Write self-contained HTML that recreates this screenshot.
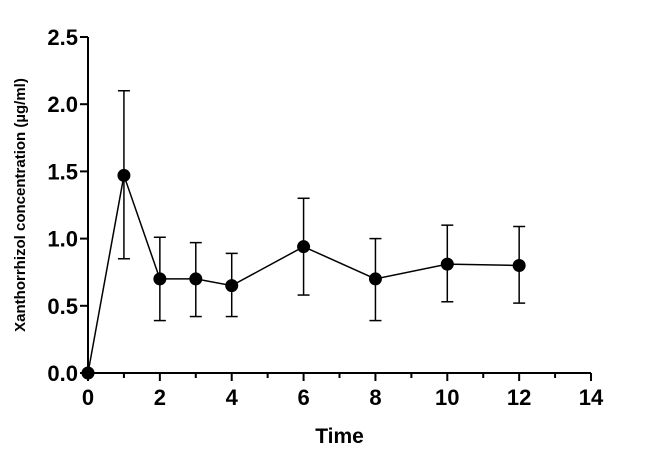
<!DOCTYPE html>
<html><head><style>
body{margin:0;background:#fff;}
svg text{font-family:"Liberation Sans",Arial,sans-serif;font-weight:bold;fill:#000;}
</style></head><body>
<svg id="chart" width="658" height="460" xmlns="http://www.w3.org/2000/svg"></svg>
<script>
const times=[0,1,2,3,4,6,8,10,12];
const means=[0,1.47,0.70,0.70,0.65,0.94,0.70,0.81,0.80];
const lowers=[0,0.85,0.39,0.42,0.42,0.58,0.39,0.53,0.52];
const uppers=[0,2.10,1.01,0.97,0.89,1.30,1.00,1.10,1.09];
const xTicks=[0,2,4,6,8,10,12,14];
const yTicks=[0,0.5,1.0,1.5,2.0,2.5];
const NS="http://www.w3.org/2000/svg";
const svg=document.getElementById('chart');
const x0=88,xPer=35.93,y0=373,yPer=134.4;
const X=v=>x0+v*xPer, Y=v=>y0-v*yPer;
function mk(t,a,p){const e=document.createElementNS(NS,t);for(const k in a)e.setAttribute(k,a[k]);(p||svg).appendChild(e);return e;}
let ax=mk('g',{stroke:'#000','stroke-width':2});


mk('line',{x1:x0,y1:y0,x2:X(14),y2:y0},ax);
mk('line',{x1:x0,y1:y0,x2:x0,y2:Y(2.5)},ax);
for(let i=0;i<=14;i++){mk('line',{x1:X(i),y1:y0,x2:X(i),y2:y0+(i%2?5:8)},ax);}
xTicks.forEach(v=>{const t=mk('text',{x:X(v),y:y0+32,'text-anchor':'middle','font-size':22});t.textContent=v;

});
yTicks.forEach(v=>{mk('line',{x1:x0-8,y1:Y(v),x2:x0,y2:Y(v)},ax);
const t=mk('text',{x:x0-10,y:Y(v)+8,'text-anchor':'end','font-size':22});t.textContent=v.toFixed(1);

});
const xt=mk('text',{x:X(7),y:443,'text-anchor':'middle','font-size':21});xt.textContent='Time';


const yt=mk('text',{x:0,y:0,'text-anchor':'middle','font-size':15,transform:'translate(25,205) rotate(-90)'});yt.textContent='Xanthorrhizol concentration (µg/ml)';


const ln=mk('polyline',{points:times.map((t,i)=>X(t)+','+Y(means[i])).join(' '),fill:'none',stroke:'#000','stroke-width':1.5});


times.forEach((t,i)=>{
 const g=mk('g',{stroke:'#000','stroke-width':1.5});
 
 
 if(uppers[i]>lowers[i]){
 mk('line',{x1:X(t),y1:Y(lowers[i]),x2:X(t),y2:Y(uppers[i])},g);
 mk('line',{x1:X(t)-6,y1:Y(lowers[i]),x2:X(t)+6,y2:Y(lowers[i])},g);
 mk('line',{x1:X(t)-6,y1:Y(uppers[i]),x2:X(t)+6,y2:Y(uppers[i])},g);}
 const c=mk('circle',{cx:X(t),cy:Y(means[i]),r:6.5,fill:'#000'});
 
 
});
</script>
</body></html>
